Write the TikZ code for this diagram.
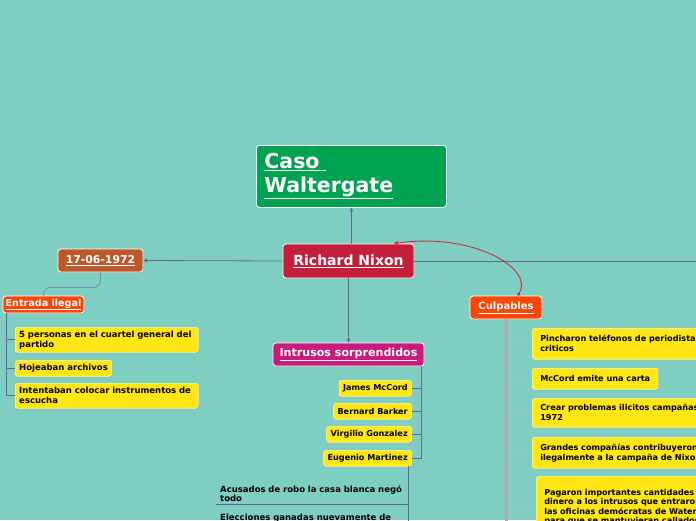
\documentclass[tikz,border=0pt]{standalone}
\usepackage{fontspec}
\setmainfont{DejaVu Sans}
\usetikzlibrary{arrows.meta,shadows}
\definecolor{bg}{RGB}{126,206,193}
\definecolor{cwgreen}{RGB}{0,164,80}
\definecolor{nixred}{RGB}{196,30,58}
\definecolor{datebrown}{RGB}{190,88,42}
\definecolor{orng}{RGB}{252,70,8}
\definecolor{magen}{RGB}{200,27,126}
\definecolor{ylw}{RGB}{255,230,20}
\definecolor{lnk}{RGB}{105,100,150}
\definecolor{lnklight}{RGB}{120,140,170}
\definecolor{bus}{RGB}{168,172,172}
\definecolor{stub}{RGB}{160,196,190}
\definecolor{curvered}{RGB}{200,50,70}
\begin{document}
\begin{tikzpicture}[x=1pt,y=-1pt,
  title/.style={draw=white, line width=0.8pt, rounded corners=3pt, text=white,
    font=\bfseries, inner sep=0pt, align=center,
    drop shadow={shadow xshift=0.8pt, shadow yshift=-0.8pt, opacity=0.25}},
  yb/.style={fill=ylw, draw=white!70!ylw, line width=0.5pt, rounded corners=2.5pt,
    font=\bfseries\fontsize{8.5}{10}\selectfont, align=left, inner xsep=4pt, inner ysep=0pt,
    drop shadow={shadow xshift=0.8pt, shadow yshift=-0.8pt, opacity=0.3}},
  ybs/.style={yb, font=\bfseries\fontsize{8.15}{10}\selectfont},
  conn/.style={draw=lnk, line width=0.8pt},
  tip/.style={-{Stealth[length=4pt,width=4pt]}}
]
\useasboundingbox (0,0) rectangle (696,520);
\clip (0,0) rectangle (696,520);
\fill[bg] (0,0) rectangle (696,520);

% main nodes
\node[title, fill=cwgreen, anchor=north west, minimum width=190pt, minimum height=62pt,
  text width=174pt, align=left, font=\bfseries\fontsize{20.5}{24}\selectfont] (caso) at (256,145)
  {\underline{Caso\ }\\\underline{Waltergate}};
\node[title, fill=nixred, minimum width=131pt, minimum height=34pt,
  font=\bfseries\fontsize{14}{15}\selectfont] (nixon) at (348.5,261) {\underline{Richard Nixon}};
\node[title, fill=datebrown, minimum width=85pt, minimum height=23pt,
  font=\bfseries\fontsize{10.8}{12}\selectfont] (date) at (100.5,260.5) {\underline{17-06-1972}};
\node[title, fill=orng, minimum width=81pt, minimum height=17pt,
  font=\bfseries\fontsize{9.6}{12}\selectfont] (entrada) at (43.5,304.5) {\underline{Entrada ilegal}};
\node[title, fill=magen, minimum width=151pt, minimum height=23pt,
  font=\bfseries\fontsize{11.1}{12}\selectfont] (intr) at (348.5,354.5) {\underline{Intrusos sorprendidos}};
\node[title, fill=orng, minimum width=72pt, minimum height=23pt,
  font=\bfseries\fontsize{10}{12}\selectfont] (culp) at (506,307.5) {\underline{Culpables}};

% left yellow
\node[yb, anchor=north west, text width=175pt, minimum height=25pt] (l1) at (15,327)
  {5 personas en el cuartel general del\\partido};
\node[yb, anchor=north west, minimum height=16pt] (l2) at (15,360) {Hojeaban archivos};
\node[yb, anchor=north west, text width=175pt, minimum height=25pt] (l3) at (15,383)
  {Intentaban colocar instrumentos de\\escucha};

% intrusos children
\node[ybs, anchor=north east, minimum height=16pt] (c1) at (412,380) {James McCord};
\node[ybs, anchor=north east, minimum height=16pt] (c2) at (412,403) {Bernard Barker};
\node[ybs, anchor=north east, minimum height=16pt] (c3) at (412,426) {Virgilio Gonzalez};
\node[ybs, anchor=north east, minimum height=16pt] (c4) at (412,450) {Eugenio Martinez};

\node[font=\bfseries\fontsize{8.5}{9.5}\selectfont, align=left, anchor=south west,
  inner xsep=4pt, inner ysep=2pt, text width=184pt] (acus) at (216,504)
  {Acusados de robo la casa blanca negó\\todo};
\node[font=\bfseries\fontsize{8.5}{9.5}\selectfont, align=left, anchor=north west,
  inner xsep=4pt, inner ysep=0pt] (elec) at (216,514) {Elecciones ganadas nuevamente de};

% right yellow
\node[ybs, anchor=north west, text width=190pt, minimum height=31pt, inner xsep=8pt] (r1) at (532,328)
  {Pincharon teléfonos de periodistas\\criticos};
\node[ybs, anchor=north west, minimum height=21pt, inner xsep=8pt] (r2) at (532,368) {McCord emite una carta};
\node[ybs, anchor=north west, text width=190pt, minimum height=29pt, inner xsep=8pt] (r3) at (532,398)
  {Crear problemas ilicitos campañas\\1972};
\node[ybs, anchor=north west, text width=190pt, minimum height=31pt, inner xsep=8pt] (r4) at (532,437)
  {Grandes compañías contribuyeron\\ilegalmente a la campaña de Nixon};
\node[ybs, anchor=north west, text width=190pt, minimum height=62pt, inner xsep=8pt,
  font=\bfseries\fontsize{8.15}{9.5}\selectfont] (r5) at (536,476)
  {Pagaron importantes cantidades de\\dinero a los intrusos que entraron a\\las oficinas demócratas de Watergate\\para que se mantuvieran callados.};

% connectors
\coordinate (rend) at (700,261);
\draw[conn] (nixon.east) -- (rend);
\draw[conn, tip] (caso.south |- nixon.north) -- (caso.south);
\draw[conn, tip] (nixon.west) -- (date.east);
\draw[conn, tip] (nixon.south) -- (intr.north);
\draw[draw=lnklight, line width=0.8pt, rounded corners=7pt] (date.south) -- ++(0,15) -| (entrada.north);

\coordinate (eb) at (6,313);
\draw[conn] (eb) |- (l1.west);
\draw[conn] (eb) |- (l2.west);
\draw[conn] (eb) |- (l3.west);

\coordinate (ib) at (421,366);
\draw[conn] (ib) |- (c1.east);
\draw[conn] (ib) |- (c2.east);
\draw[conn] (ib) |- (c3.east);
\draw[conn] (ib) |- (c4.east);

\coordinate (eb2) at (408,466);
\coordinate (eb3) at (408,525);
\draw[conn] (eb2) -- (eb3);
\draw[conn] (acus.south west) -- (408,504);

\coordinate (cb) at (506,525);
\draw[draw=bus, line width=3pt] (culp.south) -- (cb);
\foreach \n in {r1,r2,r3,r4,r5}{\draw[draw=stub, line width=0.8pt] (507.5,0 |- \n.west) -- (\n.west);}

\draw[draw=curvered, line width=0.9pt, {Circle[length=3.5pt]}-{Stealth[length=5pt,width=5pt]}]
  (culp.45) .. controls (534,268) and (472,232) .. (nixon.21);
\end{tikzpicture}
\end{document}
